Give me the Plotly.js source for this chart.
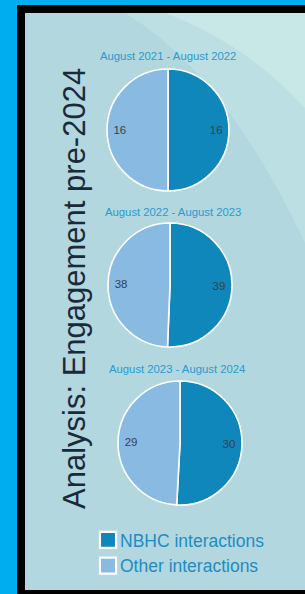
<!DOCTYPE html>
<html>
<head>
<meta charset="utf-8">
<script src="https://cdn.plot.ly/plotly-3.0.1.min.js"></script>
<style>
  html, body { margin: 0; padding: 0; }
  body { width: 305px; height: 594px; background: #00AEEF; position: relative; overflow: hidden; }
  #frame { position: absolute; left: 17px; top: 5px; width: 288px; height: 589px; background: #000; }
  #chart { position: absolute; left: 25px; top: 13px; width: 280px; height: 577px; }
  g.legend path.legendpie { transform: translate(28px, 0px) scale(1.34); }
</style>
</head>
<body>
<div id="frame"></div>
<div id="chart"></div>
<script>
// ---- data ----
var periods = ["August 2021 - August 2022", "August 2022 - August 2023", "August 2023 - August 2024"];
var categories = ["NBHC interactions", "Other interactions"];
var nbhcValues = [16, 39, 30];
var otherValues = [16, 38, 29];
var chartTitle = "Analysis: Engagement pre-2024";

// ---- layout constants (pixels inside the 280x577 plot area) ----
var W = 280, H = 577;
var pieGeom = [ {cx: 143, cy: 117, r: 61}, {cx: 145, cy: 272, r: 62}, {cx: 155, cy: 430, r: 62} ];
var titlePos = [ {x: 143, y: 43}, {x: 147.5, y: 199}, {x: 152, y: 356} ];
var colors = ["#0F87BA", "#88BAE2"];
var FONT = "Arial, Liberation Sans, sans-serif";

function domainOf(g) {
  return {x: [(g.cx - g.r) / W, (g.cx + g.r) / W], y: [1 - (g.cy + g.r) / H, 1 - (g.cy - g.r) / H]};
}

var traces = [];
// visible pies
periods.forEach(function (p, i) {
  traces.push({
    type: "pie",
    name: p,
    labels: categories,
    values: [nbhcValues[i], otherValues[i]],
    sort: false, direction: "clockwise", rotation: 0,
    textinfo: "none",
    marker: {colors: colors, line: {color: "#ffffff", width: 1.6}},
    domain: domainOf(pieGeom[i]),
    hoverinfo: "none",
    showlegend: true
  });
});
// value labels: same slices drawn as a transparent ring so labels sit near the rim
periods.forEach(function (p, i) {
  traces.push({
    type: "pie",
    name: p + " labels",
    labels: categories,
    values: [nbhcValues[i], otherValues[i]],
    sort: false, direction: "clockwise", rotation: 0,
    hole: 0.58,
    textinfo: "value",
    textposition: "inside",
    insidetextorientation: "horizontal",
    textfont: {family: FONT, size: 11.5, color: "#36434a"},
    marker: {colors: ["rgba(0,0,0,0)", "rgba(0,0,0,0)"], line: {width: 0}},
    domain: domainOf(pieGeom[i]),
    hoverinfo: "none",
    showlegend: false
  });
});

var annotations = periods.map(function (p, i) {
  return {text: p, xref: "paper", yref: "paper", x: titlePos[i].x / W, y: 1 - titlePos[i].y / H,
          showarrow: false, xanchor: "center", yanchor: "middle",
          font: {family: FONT, size: 11.3, color: "#2A9ACF"}};
});
annotations.push({text: chartTitle, xref: "paper", yref: "paper", x: 49 / W, y: 1 - 276 / H,
   textangle: -90, showarrow: false, xanchor: "center", yanchor: "middle",
   font: {family: FONT, size: 31, color: "#1B2A3A"}});

var layout = {
  width: W, height: H,
  margin: {l: 0, r: 0, t: 0, b: 0},
  paper_bgcolor: "#B3D7DF",
  showlegend: true,
  legend: {
    x: 55 / W, xanchor: "left",
    y: 1 - 509 / H, yanchor: "top",
    bgcolor: "rgba(0,0,0,0)",
    font: {family: FONT, size: 17.5, color: "#1E8CC2"},
    traceorder: "normal"
  },
  shapes: [
    {type: "path", xref: "paper", yref: "paper", layer: "below", line: {width: 0},
     fillcolor: "rgba(205,238,234,0.35)",
     path: "M " + (100 / W) + " 1 Q " + (200 / W) + " " + (1 - 60 / H) + " 1 " + (1 - 230 / H) + " L 1 1 Z"},
    {type: "path", xref: "paper", yref: "paper", layer: "below", line: {width: 0},
     fillcolor: "rgba(210,242,236,0.5)",
     path: "M " + (140 / W) + " 1 Q " + (220 / W) + " " + (1 - 30 / H) + " 1 " + (1 - 95 / H) + " L 1 1 Z"}
  ],
  annotations: annotations
};

Plotly.newPlot("chart", traces, layout, {staticPlot: true, displayModeBar: false});
</script>
</body>
</html>
